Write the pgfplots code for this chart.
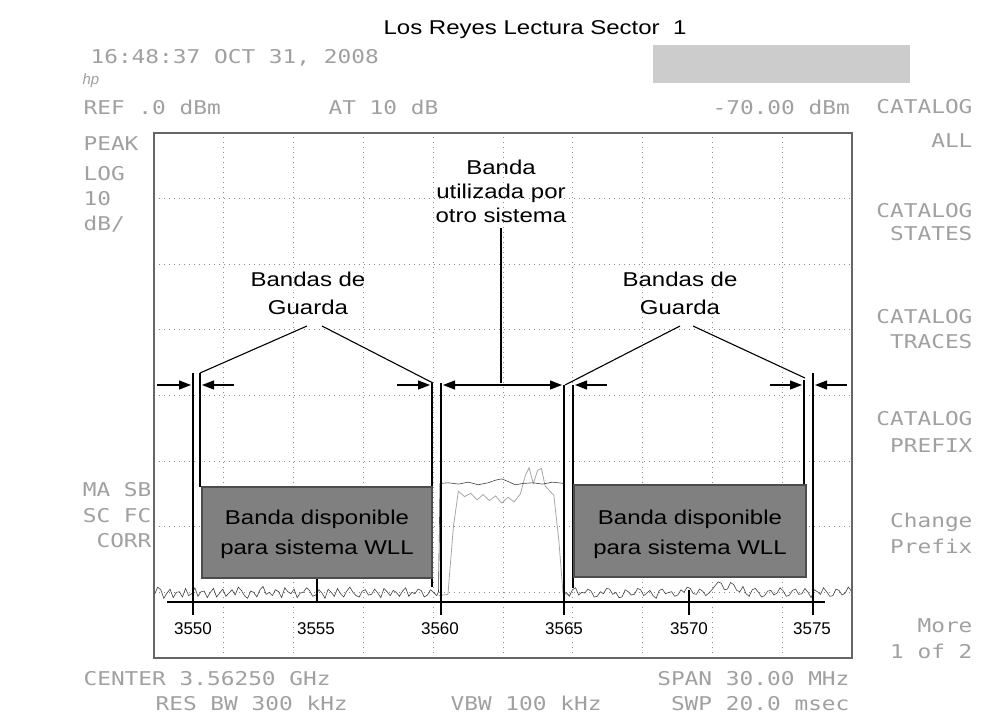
\documentclass[border=0pt]{standalone}
\usepackage{pgfplots}
\pgfplotsset{compat=1.18}
\usepackage{pgfplotstable}
\usepackage{fontspec}
\setmainfont{Liberation Sans}
\newfontfamily\ann[FakeStretch=1.2]{Liberation Sans}
\newfontfamily\tickf{Liberation Sans}
\newfontfamily\hpf[FakeStretch=1.2]{DejaVu Sans Mono}
\usetikzlibrary{arrows.meta}
\definecolor{boxgray}{RGB}{128,128,128}
\definecolor{hpgray}{RGB}{160,160,160}
\newcommand{\af}{\ann\fontsize{20}{24}\selectfont}
\newcommand{\hf}{\hpf\fontsize{19}{22}\selectfont}

% max-hold trace (MHz, dBm)
\pgfplotstableread{
f     p
3548.450 -70.3
3548.575 -69.2
3548.700 -69.6
3548.825 -70.9
3548.950 -70.1
3549.075 -69.5
3549.200 -70.8
3549.325 -70.0
3549.450 -69.9
3549.575 -70.7
3549.700 -69.4
3549.825 -70.5
3549.950 -70.2
3550.075 -69.3
3550.200 -70.6
3550.325 -69.9
3550.450 -69.8
3550.575 -70.8
3550.700 -70.0
3550.825 -69.4
3550.950 -70.7
3551.075 -70.1
3551.200 -69.5
3551.325 -70.6
3551.450 -70.1
3551.575 -69.6
3551.700 -70.4
3551.825 -69.2
3551.950 -69.7
3552.075 -70.5
3552.200 -70.9
3552.325 -69.8
3552.450 -70.0
3552.575 -70.7
3552.700 -69.6
3552.825 -69.1
3552.950 -70.3
3553.075 -70.0
3553.200 -70.5
3553.325 -69.6
3553.450 -69.9
3553.575 -70.8
3553.700 -69.3
3553.825 -69.9
3553.950 -70.2
3554.075 -69.5
3554.200 -70.8
3554.325 -70.1
3554.450 -70.0
3554.575 -69.3
3554.700 -69.7
3554.825 -70.6
3554.950 -70.4
3555.075 -69.6
3555.200 -70.1
3555.325 -70.9
3555.450 -69.5
3555.575 -70.0
3555.700 -70.6
3555.825 -69.4
3555.950 -70.2
3556.075 -70.7
3556.200 -69.8
3556.325 -69.2
3556.450 -70.0
3556.575 -70.5
3556.700 -70.7
3556.825 -69.8
3556.950 -69.6
3557.075 -70.4
3557.200 -70.3
3557.325 -69.5
3557.450 -70.1
3557.575 -70.8
3557.700 -69.4
3557.825 -69.9
3557.950 -70.5
3558.075 -69.7
3558.200 -70.0
3558.325 -70.6
3558.450 -69.8
3558.575 -69.3
3558.700 -70.6
3558.825 -70.0
3558.950 -70.2
3559.075 -69.5
3559.200 -69.7
3559.325 -70.7
3559.450 -70.4
3559.575 -69.6
3559.700 -70.0
3559.825 -70.5
3559.900 -69.9
3559.960 -53.4
3560.300 -53.3
3560.700 -53.5
3561.100 -53.2
3561.500 -53.6
3561.900 -53.3
3562.200 -52.9
3562.450 -52.7
3562.700 -53.1
3563.000 -53.6
3563.300 -53.4
3563.700 -53.3
3564.100 -53.5
3564.500 -53.2
3564.960 -53.4
3564.980 -70.2
3565.050 -70.0
3565.175 -70.6
3565.300 -69.6
3565.425 -69.3
3565.550 -70.4
3565.675 -70.0
3565.800 -70.1
3565.925 -69.5
3566.050 -69.8
3566.175 -70.7
3566.300 -70.6
3566.425 -69.9
3566.550 -70.2
3566.675 -69.4
3566.800 -69.5
3566.925 -70.3
3567.050 -70.0
3567.175 -70.8
3567.300 -70.7
3567.425 -69.6
3567.550 -69.9
3567.675 -70.4
3567.800 -70.3
3567.925 -69.4
3568.050 -69.6
3568.175 -70.5
3568.300 -70.1
3568.425 -69.7
3568.550 -70.5
3568.675 -70.9
3568.800 -69.7
3568.925 -69.5
3569.050 -70.2
3569.175 -70.0
3569.300 -69.9
3569.425 -70.6
3569.550 -70.4
3569.675 -69.6
3569.800 -70.0
3569.925 -69.2
3570.050 -69.4
3570.175 -70.2
3570.300 -70.3
3570.425 -69.5
3570.550 -69.8
3570.675 -70.5
3570.800 -70.1
3570.925 -69.6
3571.050 -69.0
3571.175 -68.4
3571.300 -68.6
3571.425 -69.6
3571.550 -69.5
3571.675 -68.5
3571.800 -68.8
3571.925 -69.7
3572.050 -69.9
3572.175 -69.1
3572.300 -70.2
3572.425 -70.6
3572.550 -69.6
3572.675 -69.4
3572.800 -70.0
3572.925 -70.7
3573.050 -70.5
3573.175 -69.8
3573.300 -69.7
3573.425 -70.4
3573.550 -70.1
3573.675 -69.3
3573.800 -69.8
3573.925 -70.6
3574.050 -70.4
3574.175 -69.7
3574.300 -69.5
3574.425 -70.3
3574.550 -70.2
3574.675 -69.4
3574.800 -70.0
3574.925 -70.8
3575.050 -69.6
3575.175 -69.9
3575.300 -70.3
3575.425 -69.3
3575.550 -69.9
3575.675 -70.6
3575.800 -70.5
3575.925 -69.5
3576.050 -69.7
3576.175 -70.4
3576.300 -70.1
3576.425 -69.2
3576.550 -69.8
}\maxhold

% second (lighter) sweep over the occupied band
\pgfplotstableread{
f     p
3559.90 -70.5
3560.28 -70.3
3560.50 -60.0
3560.70 -54.6
3560.95 -55.4
3561.20 -54.9
3561.45 -55.9
3561.70 -55.1
3561.95 -56.0
3562.20 -55.3
3562.45 -56.4
3562.70 -55.5
3562.95 -56.2
3563.20 -55.0
3563.40 -52.2
3563.55 -51.0
3563.72 -53.4
3563.90 -51.4
3564.05 -51.1
3564.20 -53.8
3564.40 -54.6
3564.55 -55.2
3564.75 -62.0
3564.92 -70.1
3565.20 -70.4
}\clearw

\begin{document}
\begin{tikzpicture}
\path[use as bounding box] (0pt,0pt) rectangle (996pt,-718pt);

\begin{axis}[
    at={(154pt,-658pt)}, anchor=south west,
    scale only axis, width=698pt, height=525pt,
    xmin=3548.4275, xmax=3576.5725, ymin=-80, ymax=0,
    xtick={3551.242,3554.0565,3556.871,3559.6855,3562.5,3565.3145,3568.129,3570.9435,3573.758},
    ytick={-70,-60,-50,-40,-30,-20,-10},
    xticklabels={}, yticklabels={},
    major tick length=0pt,
    grid=major,
    major grid style={black!45, line width=1pt, dash pattern=on 1pt off 4pt},
    axis line style={black!60, line width=1.2pt},
    clip=true,
  ]
  \addplot[black!35, line width=0.8pt] table[x=f, y=p] {\clearw};
  \addplot[black!75, line width=0.6pt] table[x=f, y=p] {\maxhold};
\end{axis}

\begin{scope}[x=1pt, y=-1pt, line width=1.1pt,
    arr/.style={-{Triangle[length=12pt,width=9pt]}},
    arr2/.style={{Triangle[length=12pt,width=9pt]}-{Triangle[length=12pt,width=9pt]}}]
  % instrument screen text
  \begin{scope}[every node/.style={inner sep=0pt, text=hpgray, font=\hf}]
    \node[anchor=base west] at (90,63) {16:48:37 OCT 31, 2008};
    \node[anchor=base west, font=\itshape\fontsize{15}{15}\selectfont] at (82,84) {hp};
    \node[anchor=base west] at (83,114) {REF .0 dBm};
    \node[anchor=base west] at (328,114) {AT 10 dB};
    \node[anchor=base west] at (712,114) {-70.00 dBm};
    \node[anchor=base west] at (83,150) {PEAK};
    \node[anchor=base west] at (83,180) {LOG};
    \node[anchor=base west] at (83,205) {10};
    \node[anchor=base west] at (83,230) {dB/};
    \node[anchor=base east] at (152,496) {MA SB};
    \node[anchor=base east] at (152,522) {SC FC};
    \node[anchor=base east] at (152,547) {CORR};
    \node[anchor=base west] at (83,685) {CENTER 3.56250 GHz};
    \node[anchor=base west] at (155,710) {RES BW 300 kHz};
    \node[anchor=base west] at (450,710) {VBW 100 kHz};
    \node[anchor=base east] at (850,685) {SPAN 30.00 MHz};
    \node[anchor=base east] at (850,710) {SWP 20.0 msec};
    \node[anchor=base east] at (973,113) {CATALOG};
    \node[anchor=base east] at (973,147) {ALL};
    \node[anchor=base east] at (973,217) {CATALOG};
    \node[anchor=base east] at (973,240) {STATES};
    \node[anchor=base east] at (973,323) {CATALOG};
    \node[anchor=base east] at (973,348) {TRACES};
    \node[anchor=base east] at (973,425) {CATALOG};
    \node[anchor=base east] at (973,452) {PREFIX};
    \node[anchor=base east] at (973,527) {Change};
    \node[anchor=base east] at (973,553) {Prefix};
    \node[anchor=base east] at (973,632) {More};
    \node[anchor=base east] at (973,658) {1 of 2};
  \end{scope}
  \fill[black!20] (653,45) rectangle (910,83);

  % annotation lines
  \draw (193,373) -- (193,615);
  \draw (200,373) -- (200,487);
  \draw (432,383) -- (432,587);
  \draw (441,383) -- (441,615);
  \draw (564,385) -- (564,615);
  \draw (573,385) -- (573,588);
  \draw (804,380) -- (804,485);
  \draw (813,373) -- (813,615);
  \draw (317,578) -- (317,602);
  \draw (689,590) -- (689,615);
  \draw (167,602) -- (825,602);

  % available bands
  \filldraw[fill=boxgray, draw=black!70, line width=1.5pt] (202,487) rectangle (432,578);
  \filldraw[fill=boxgray, draw=black!70, line width=1.5pt] (574,485) rectangle (806,577);

  % arrows
  \draw[arr] (157,385) -- (191,385);
  \draw[arr] (234,385) -- (202,385);
  \draw[arr] (397,385) -- (430,385);
  \draw[arr2] (443,385) -- (562,385);
  \draw[arr] (607,385) -- (575,385);
  \draw[arr] (770,385) -- (802,385);
  \draw[arr] (847,385) -- (815,385);

  % leaders
  \draw (200,373) -- (307,326);
  \draw (322,326) -- (433,383);
  \draw (565,385) -- (680,326);
  \draw (693,326) -- (805,378);
  \draw (501,228) -- (501,383);

  \begin{scope}[every node/.style={inner sep=0pt, font=\af}]
    \node[anchor=base] at (535,34) {Los Reyes Lectura Sector\ \ 1};
    \node[anchor=base] at (308,286) {Bandas de};
    \node[anchor=base] at (308,314) {Guarda};
    \node[anchor=base] at (680,286) {Bandas de};
    \node[anchor=base] at (680,314) {Guarda};
    \node[anchor=base] at (501,174) {Banda};
    \node[anchor=base] at (501,198) {utilizada por};
    \node[anchor=base] at (501,222) {otro sistema};
    \node[anchor=base] at (317,524) {Banda disponible};
    \node[anchor=base] at (317,554) {para sistema WLL};
    \node[anchor=base] at (690,524) {Banda disponible};
    \node[anchor=base] at (690,554) {para sistema WLL};
  \end{scope}
  \begin{scope}[every node/.style={inner sep=0pt, font=\tickf\fontsize{17}{17}\selectfont, anchor=base}]
    \node at (193,634) {3550};
    \node at (316,634) {3555};
    \node at (440,634) {3560};
    \node at (564,634) {3565};
    \node at (689,634) {3570};
    \node at (812,634) {3575};
  \end{scope}
\end{scope}
\end{tikzpicture}
\end{document}
